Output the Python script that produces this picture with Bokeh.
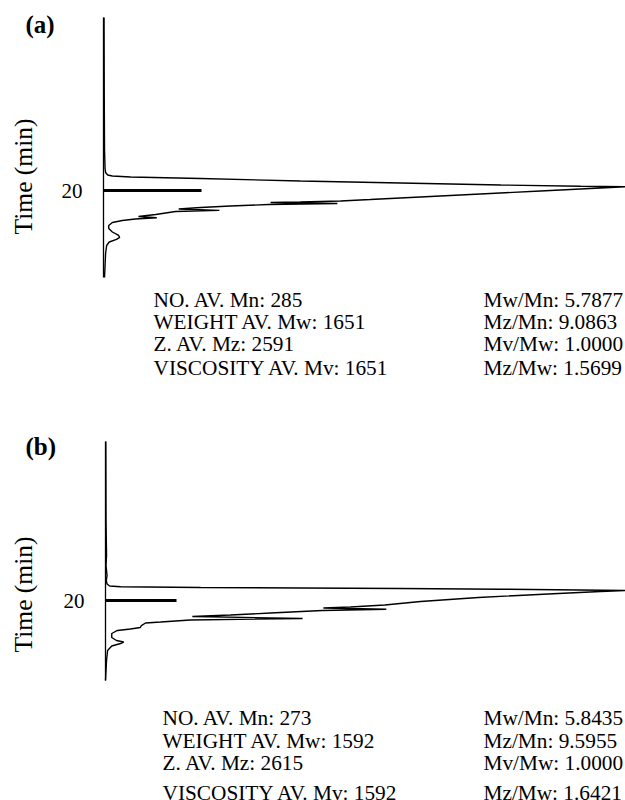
import math
from bokeh.plotting import figure
from bokeh.models import Range1d, FixedTicker, Label
from bokeh.layouts import column
from bokeh.embed import file_html
from bokeh.resources import INLINE

# ---------------- data ----------------
# Panel (a): GPC trace, signal (arbitrary units, peak = 100) vs elution time (min)
time_a = [0.00, 9.58, 15.35, 17.42, 17.88, 18.17, 18.29, 18.40, 18.58, 18.86, 19.10, 19.33,
          19.47, 19.53, 19.67, 20.02, 20.37, 20.71, 21.00, 21.17, 21.29, 21.35, 21.46, 21.58,
          21.75, 21.92, 22.10, 22.25, 22.38, 22.73, 22.96, 23.11, 23.25, 23.42, 23.65, 24.00,
          24.35, 24.75, 25.15, 25.38, 25.61, 25.90, 26.31, 27.23, 28.61, 30.00]
signal_a = [0.1, 0.15, 0.2, 0.3, 0.4, 0.8, 1.7, 5.2, 18.6, 37.7, 56.9, 76.1,
            91.4, 100.0, 95.2, 83.7, 72.2, 60.7, 51.1, 45.4, 37.7, 32.0, 44.8, 31.6,
            24.3, 18.6, 14.4, 22.2, 13.8, 10.0, 6.7, 10.2, 6.1, 3.6, 1.7, 1.0,
            1.0, 1.7, 2.9, 3.1, 2.5, 1.1, 0.6, 0.4, 0.3, 0.2]

# Panel (b)
time_b = [0.00, 9.92, 14.31, 15.56, 16.82, 17.45, 17.89, 18.14, 18.24, 18.33, 18.39, 18.45,
          18.54, 18.64, 18.70, 18.83, 19.08, 19.58, 20.08, 20.52, 20.77, 20.90, 21.06, 21.21,
          21.53, 21.78, 21.96, 22.22, 22.40, 22.66, 22.78, 23.10, 23.35, 23.54, 23.72, 24.10,
          24.60, 24.98, 25.17, 25.36, 25.67, 26.23, 27.49, 28.74, 30.00]
signal_b = [0.06, 0.1, 0.2, 0.1, 0.3, 0.15, 0.3, 0.8, 2.9, 18.3, 37.5, 56.7,
            76.0, 91.3, 100.0, 95.2, 87.1, 71.7, 60.6, 53.7, 47.1, 41.9, 54.0, 41.7,
            31.7, 24.0, 16.7, 37.9, 16.3, 10.6, 7.7, 6.9, 6.7, 4.8, 2.3, 1.2,
            1.2, 2.1, 3.5, 2.9, 1.2, 0.4, 0.2, 0.1, 0.0]

time_ticks = [20]
time_bounds = (0, 30)
signal_max = 100

stats_a_left = ["NO. AV. Mn: 285", "WEIGHT AV. Mw: 1651", "Z. AV. Mz: 2591", "VISCOSITY AV. Mv: 1651"]
stats_a_right = ["Mw/Mn: 5.7877", "Mz/Mn: 9.0863", "Mv/Mw: 1.0000", "Mz/Mw: 1.5699"]
stats_b_left = ["NO. AV. Mn: 273", "WEIGHT AV. Mw: 1592", "Z. AV. Mz: 2615", "VISCOSITY AV. Mv: 1592"]
stats_b_right = ["Mw/Mn: 5.8435", "Mz/Mn: 9.5955", "Mv/Mw: 1.0000", "Mz/Mw: 1.6421"]

SERIF = "Liberation Serif"
W = 625
H = 400


def make_panel(letter, t, s, left_stats, right_stats, axis_top, axis_bottom, axis_x,
               tick_in, letter_x, letter_y, ylabel_y, stats_y, left_x, right_x):
    # pixel geometry -> ranges (frame fills the whole figure)
    px_per_sig = (W - axis_x) / signal_max
    px_per_min = (axis_bottom - axis_top) / (time_bounds[1] - time_bounds[0])
    x0 = -axis_x / px_per_sig
    y_top = time_bounds[0] - axis_top / px_per_min
    y_bot = time_bounds[1] + (H - axis_bottom) / px_per_min

    p = figure(width=W, height=H, output_backend="svg", toolbar_location=None,
               x_range=Range1d(x0, signal_max), y_range=Range1d(y_bot, y_top),
               x_axis_location=None, min_border=0)
    p.outline_line_color = None
    p.grid.visible = False
    p.background_fill_color = "white"
    p.border_fill_color = "white"
    ax = p.yaxis[0]
    ax.fixed_location = 0
    ax.bounds = time_bounds
    ax.ticker = FixedTicker(ticks=time_ticks)
    ax.minor_tick_line_color = None
    ax.major_tick_in = tick_in
    ax.major_tick_out = 0
    ax.major_tick_line_width = 3
    ax.major_tick_line_color = "black"
    ax.axis_line_width = 1.3
    ax.axis_line_color = "black"
    ax.major_label_text_font = SERIF
    ax.major_label_text_font_size = "21px"
    ax.major_label_text_color = "black"
    ax.major_label_standoff = 21

    p.line(s, t, line_color="black", line_width=1.4)

    p.add_layout(Label(x=letter_x, y=H - letter_y, x_units="screen", y_units="screen",
                       text=letter, text_font=SERIF, text_font_size="25px",
                       text_font_style="bold", text_color="black",
                       text_baseline="alphabetic"))
    p.add_layout(Label(x=23, y=H - ylabel_y, x_units="screen", y_units="screen",
                       text="Time (min)", angle=math.pi / 2, text_align="center",
                       text_baseline="middle", text_font=SERIF, text_font_size="25.5px",
                       text_color="black"))
    for i, (ls, rs) in enumerate(zip(left_stats, right_stats)):
        p.add_layout(Label(x=left_x, y=H - stats_y[i], x_units="screen", y_units="screen",
                           text=ls, text_font=SERIF, text_font_size="21.3px",
                           text_color="black", text_baseline="alphabetic"))
        p.add_layout(Label(x=right_x, y=H - stats_y[i], x_units="screen", y_units="screen",
                           text=rs, text_font=SERIF, text_font_size="21.3px",
                           text_color="black", text_baseline="alphabetic"))
    return p


pa = make_panel("(a)", time_a, signal_a, stats_a_left, stats_a_right,
                axis_top=17, axis_bottom=277, axis_x=103, tick_in=98,
                letter_x=25, letter_y=24, ylabel_y=176, stats_y=[299, 321, 343, 367],
                left_x=153, right_x=483)
pb = make_panel("(b)", time_b, signal_b, stats_b_left, stats_b_right,
                axis_top=41, axis_bottom=280, axis_x=105, tick_in=71,
                letter_x=25, letter_y=46, ylabel_y=194, stats_y=[317, 340, 362, 392],
                left_x=162, right_x=483)

layout = column(pa, pb, spacing=0)
open("out.html", "w").write(file_html(layout, INLINE))
